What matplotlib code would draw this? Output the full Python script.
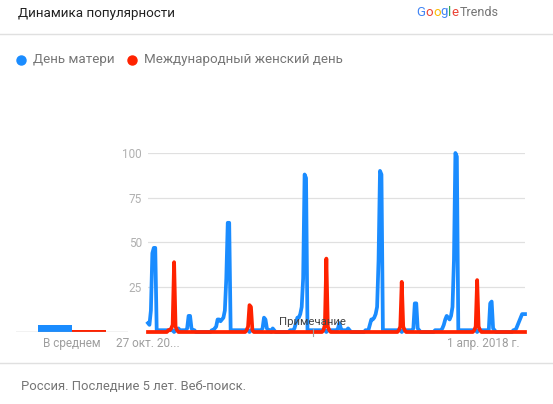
import matplotlib
matplotlib.use("Agg")
import matplotlib.pyplot as plt
from matplotlib.lines import Line2D

plt.rcParams['font.family'] = ['Roboto', 'DejaVu Sans']

# Weekly interest, 27 Oct 2013 .. Oct 2018 (261 weeks)
mother_day = [
    5, 4, 12, 44, 47, 47, 1, 1, 1, 1, 1, 1, 1, 1, 1, 1, 1, 1, 0, 1,
    1, 2, 1, 1, 1, 1, 1, 2, 9, 9, 2, 1, 1, 0, 0, 0, 0, 0, 0, 0,
    0, 0, 0, 0, 1, 1, 2, 3, 7, 7, 6, 7, 8, 12, 30, 61, 61, 1, 1, 1,
    1, 1, 1, 1, 1, 1, 1, 1, 1, 1, 0, 1, 1, 1, 1, 1, 1, 1, 1, 2,
    8, 7, 2, 1, 1, 0, 2, 1, 0, 0, 0, 0, 0, 0, 0, 0, 0, 0, 1, 1,
    1, 2, 5, 8, 8, 10, 14, 30, 88, 86, 1, 1, 1, 1, 1, 1, 1, 1, 1, 1,
    1, 1, 1, 0, 1, 1, 1, 1, 1, 1, 1, 2, 5, 2, 1, 1, 1, 1, 2, 1,
    0, 0, 0, 0, 0, 0, 0, 0, 0, 0, 1, 1, 1, 4, 7, 7, 8, 10, 14, 40,
    90, 88, 1, 1, 1, 1, 1, 1, 1, 1, 1, 1, 1, 1, 1, 0, 1, 1, 1, 1,
    1, 1, 1, 2, 16, 16, 2, 1, 0, 0, 0, 0, 0, 0, 0, 0, 0, 0, 1, 1,
    1, 1, 1, 2, 4, 7, 9, 8, 7, 9, 14, 40, 100, 98, 1, 1, 1, 1, 1, 1,
    1, 1, 1, 1, 1, 1, 1, 0, 1, 1, 1, 1, 1, 1, 1, 1, 16, 17, 2, 1,
    0, 0, 0, 0, 0, 0, 0, 0, 0, 0, 0, 0, 1, 1, 2, 4, 6, 8, 10, 10,
    10,
]
women_day = [
    0, 0, 0, 0, 0, 0, 0, 0, 0, 0, 0, 0, 0, 0, 1, 1, 2, 4, 39, 3,
    1, 0, 0, 0, 0, 0, 0, 0, 0, 0, 0, 0, 0, 0, 0, 0, 0, 0, 0, 0,
    0, 0, 0, 0, 0, 0, 0, 0, 0, 0, 0, 0, 0, 0, 0, 0, 0, 0, 0, 0,
    0, 0, 0, 0, 0, 0, 0, 0, 1, 3, 15, 14, 1, 0, 0, 0, 0, 0, 0, 0,
    0, 0, 0, 0, 0, 0, 0, 0, 0, 0, 0, 0, 0, 0, 0, 0, 0, 0, 0, 0,
    0, 0, 0, 0, 0, 0, 0, 0, 0, 0, 0, 0, 0, 0, 0, 0, 0, 0, 0, 0,
    0, 1, 4, 41, 3, 1, 0, 0, 0, 0, 0, 0, 0, 0, 0, 0, 0, 0, 0, 0,
    0, 0, 0, 0, 0, 0, 0, 0, 0, 0, 0, 0, 0, 0, 0, 0, 0, 0, 0, 0,
    0, 0, 0, 0, 0, 0, 0, 0, 0, 0, 0, 0, 0, 1, 3, 28, 3, 1, 0, 0,
    0, 0, 0, 0, 0, 0, 0, 0, 0, 0, 0, 0, 0, 0, 0, 0, 0, 0, 0, 0,
    0, 0, 0, 0, 0, 0, 0, 0, 0, 0, 0, 0, 0, 0, 0, 0, 0, 0, 0, 0,
    0, 0, 0, 0, 0, 1, 3, 29, 3, 1, 0, 0, 0, 0, 0, 0, 0, 0, 0, 0,
    0, 0, 0, 0, 0, 0, 0, 0, 0, 0, 0, 0, 0, 0, 0, 0, 0, 0, 0, 0,
    0,
]
averages = [4, 1]
series_names = ['День матери', 'Международный женский день']
yticks = [25, 50, 75, 100]
xtick_weeks = [0, 231]
xtick_labels = ['27 окт. 20...', '1 апр. 2018 г.']

BLUE = '#1a8cff'
RED = '#ff2200'
W, H = 553, 404


def fx(x):
    return x / W


def fy(y):
    return 1 - y / H


fig = plt.figure(figsize=(W / 100, H / 100), dpi=100)
fig.patch.set_facecolor('white')

# header
fig.text(fx(17.5), fy(13), 'Динамика популярности', fontsize=9.6, color='#212121',
         ha='left', va='center')
fig.add_artist(Line2D([0, 1], [fy(34), fy(34)], color='#e0e0e0', lw=1))
fig.add_artist(Line2D([0, 1], [fy(363), fy(363)], color='#e0e0e0', lw=1))

# google trends logo, letter by letter
renderer = fig.canvas.get_renderer()
x = 416.5
for ch, col in zip('Google', ['#4285f4', '#ea4335', '#fbbc05', '#4285f4', '#34a853', '#ea4335']):
    t = fig.text(fx(x), fy(12), ch, fontsize=9.5, color=col, ha='left', va='center')
    x = t.get_window_extent(renderer).x1
fig.text(fx(x + 1.5), fy(12), 'Trends', fontsize=9, color='#757575', ha='left', va='center')

# legend
for cx, tx, col, name in [(20.7, 33, BLUE, series_names[0]), (132.3, 144.5, RED, series_names[1])]:
    fig.add_artist(Line2D([fx(cx)], [fy(59.5)], marker='o', markersize=6.5, color=col, lw=0))
    fig.text(fx(tx), fy(59.5), name, fontsize=9.6, color='#757575', ha='left', va='center')

# main time series
ax = fig.add_axes([fx(148), fy(332), 377 / W, 179 / H])
weeks = list(range(len(mother_day)))
for v in yticks:
    ax.axhline(v, color='#e0e0e0', lw=0.9, zorder=0)
ax.axhline(0, color='#bdbdbd', lw=0.9, zorder=0)
ax.plot(weeks, mother_day, color=BLUE, lw=2.7, clip_on=False, zorder=2, solid_joinstyle='round')
ax.plot(weeks, women_day, color=RED, lw=2.7, clip_on=False, zorder=3, solid_joinstyle='round')
ax.set_xlim(0, len(weeks) - 1)
ax.set_ylim(0, 100)
ax.set_yticks(yticks)
ax.set_yticklabels([str(v) for v in yticks])
ax.set_xticks(xtick_weeks)
ax.set_xticklabels(xtick_labels)
ax.tick_params(axis='y', length=0, pad=4.3, labelsize=8.5, labelcolor='#b0b0b0')
ax.tick_params(axis='x', length=0, pad=3.5, labelsize=8.5, labelcolor='#9e9e9e')
for s in ax.spines.values():
    s.set_visible(False)
ax.set_facecolor('none')

# annotation marker
fig.text(fx(312), fy(322), 'Примечание', fontsize=8.2, color='#424242', ha='center', va='center',
         zorder=5)
fig.add_artist(Line2D([fx(313), fx(313)], [fy(329), fy(336)], color='#9e9e9e', lw=0.8))

# average panel
ax2 = fig.add_axes([fx(16), fy(332), 112 / W, 179 / H])
ax2.bar([0, 1], averages, width=1, color=[BLUE, RED])
ax2.axhline(0, color='#9e9e9e', lw=0.9)
ax2.set_xlim(-1.147, 2.147)
ax2.set_ylim(0, 100)
ax2.set_yticks([])
ax2.set_xticks([0.5])
ax2.set_xticklabels(['В среднем'])
ax2.tick_params(axis='x', length=0, pad=3.5, labelsize=8.5, labelcolor='#9e9e9e')
for s in ax2.spines.values():
    s.set_visible(False)
ax2.set_facecolor('none')

# footer
fig.text(fx(21), fy(387), 'Россия. Последние 5 лет. Веб-поиск.', fontsize=9.4, color='#757575',
         ha='left', va='center')

fig.savefig('out.png', dpi=100)
